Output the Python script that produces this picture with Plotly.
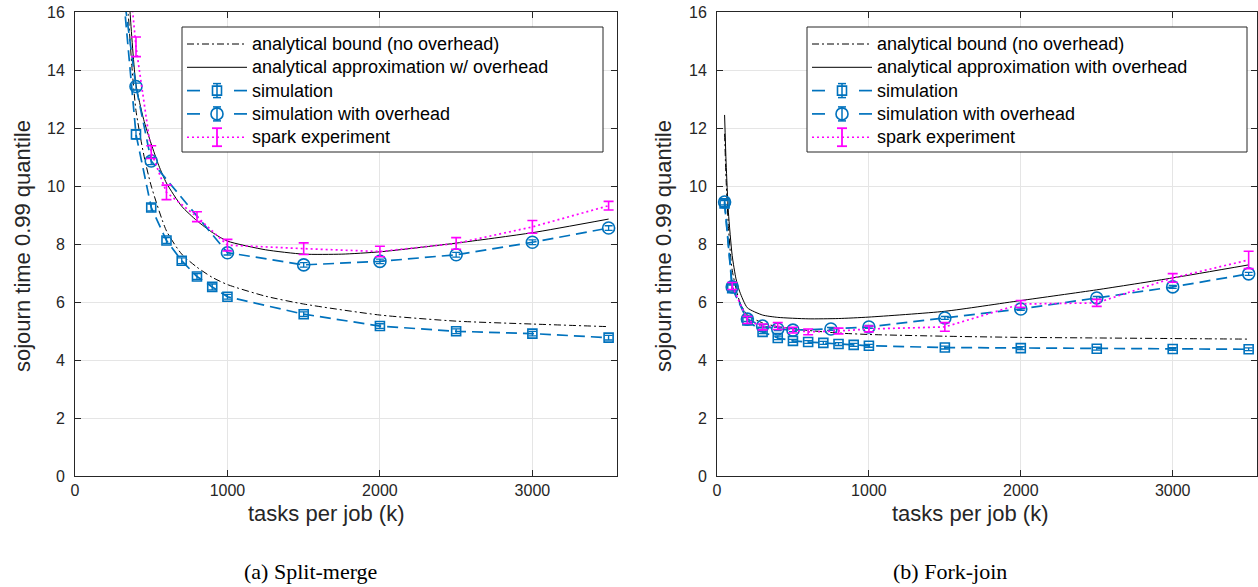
import plotly.graph_objects as go

W, H = 1258, 587

# ---------------- Split-merge (a) ----------------
sm_bound_x = [340, 350, 375, 400, 450, 500, 600, 700, 800, 900, 1000, 1250, 1500, 2000, 2500, 3000, 3500]
sm_bound_y = [16.8, 15.9, 14.0, 12.6, 11.1, 10.0, 8.45, 7.65, 7.2, 6.85, 6.6, 6.2, 5.93, 5.55, 5.34, 5.24, 5.15]

sm_approx_x = [350, 361, 400, 450, 500, 550, 600, 700, 800, 900, 1000, 1250, 1500, 1750, 2000, 2500, 3000, 3500]
sm_approx_y = [17.2, 16.0, 13.5, 12.3, 11.45, 10.7, 10.1, 9.3, 8.8, 8.4, 8.1, 7.8, 7.65, 7.65, 7.73, 8.03, 8.39, 8.86]

sm_sim_x = [300, 400, 500, 600, 700, 800, 900, 1000, 1500, 2000, 2500, 3000, 3500]
sm_sim_y = [17.6, 11.78, 9.26, 8.12, 7.42, 6.88, 6.52, 6.18, 5.58, 5.17, 4.99, 4.91, 4.77]
sm_sim_err = [0.1, 0.15, 0.12, 0.1, 0.1, 0.1, 0.1, 0.08, 0.08, 0.08, 0.08, 0.08, 0.08]

sm_ovh_x = [300, 400, 500, 1000, 1500, 2000, 2500, 3000, 3500]
sm_ovh_y = [17.4, 13.43, 10.86, 7.7, 7.28, 7.4, 7.63, 8.06, 8.55]
sm_ovh_err = [0.1, 0.12, 0.12, 0.08, 0.08, 0.08, 0.08, 0.08, 0.08]

sm_spark_x = [350, 400, 500, 600, 800, 1000, 1500, 2000, 2500, 3000, 3500]
sm_spark_y = [17.6, 14.8, 11.17, 9.78, 8.94, 7.96, 7.84, 7.74, 8.02, 8.59, 9.32]
sm_spark_err = [0.3, 0.34, 0.22, 0.25, 0.17, 0.2, 0.2, 0.18, 0.2, 0.22, 0.15]

# ---------------- Fork-join (b) ----------------
fj_bound_x = [50, 60, 75, 100, 150, 200, 300, 400, 600, 800, 1000, 1500, 2000, 2500, 3000, 3500]
fj_bound_y = [11.8, 10.2, 8.6, 7.1, 6.0, 5.55, 5.28, 5.15, 5.02, 4.93, 4.88, 4.82, 4.78, 4.76, 4.74, 4.72]

fj_approx_x = [50, 60, 75, 100, 125, 150, 200, 300, 400, 600, 800, 1000, 1500, 2000, 2500, 3000, 3500]
fj_approx_y = [12.45, 10.8, 9.1, 7.6, 6.8, 6.35, 5.8, 5.55, 5.47, 5.42, 5.43, 5.48, 5.68, 6.05, 6.42, 6.83, 7.28]

fj_sim_x = [50, 100, 200, 300, 400, 500, 600, 700, 800, 900, 1000, 1500, 2000, 2500, 3000, 3500]
fj_sim_y = [9.4, 6.48, 5.36, 4.97, 4.76, 4.66, 4.62, 4.59, 4.55, 4.52, 4.49, 4.43, 4.41, 4.39, 4.38, 4.37]
fj_sim_err = [0.1, 0.1, 0.1, 0.06, 0.06, 0.05, 0.05, 0.05, 0.05, 0.05, 0.05, 0.05, 0.05, 0.05, 0.05, 0.05]

fj_ovh_x = [50, 100, 200, 300, 400, 500, 750, 1000, 1500, 2000, 2500, 3000, 3500]
fj_ovh_y = [9.45, 6.52, 5.41, 5.17, 5.07, 5.03, 5.07, 5.14, 5.45, 5.76, 6.14, 6.52, 6.97]
fj_ovh_err = [0.1, 0.1, 0.08, 0.06, 0.06, 0.05, 0.05, 0.05, 0.05, 0.05, 0.05, 0.05, 0.05]

fj_spark_x = [100, 200, 300, 400, 500, 600, 800, 1000, 1500, 2000, 2500, 3000, 3500]
fj_spark_y = [6.55, 5.38, 5.14, 5.17, 5.03, 4.97, 5.0, 5.07, 5.14, 5.93, 5.97, 6.83, 7.45]
fj_spark_err = [0.12, 0.12, 0.1, 0.12, 0.1, 0.1, 0.1, 0.1, 0.15, 0.12, 0.12, 0.15, 0.3]

x_ticks = [0, 1000, 2000, 3000]
y_ticks = [0, 2, 4, 6, 8, 10, 12, 14, 16]

legend_a = ["analytical bound (no overhead)", "analytical approximation w/ overhead",
            "simulation", "simulation with overhead", "spark experiment"]
legend_b = ["analytical bound (no overhead)", "analytical approximation with overhead",
            "simulation", "simulation with overhead", "spark experiment"]

BLUE = "#0072BD"
MAG = "#FF00FF"
FONT = "Liberation Sans, Arial, sans-serif"
AXC = "#262626"

BOUND_DASH = "7px,3px,2px,3px"
SIM_DASH = "11px,6px"
SPARK_DASH = "2px,3px"

fig = go.Figure()


def add_panel(xa, ya, names, bx, by, ax, ay, sx, sy, sxe, ox, oy, oye, px, py, pye):
    fig.add_trace(go.Scatter(x=bx, y=by, mode="lines", name=names[0],
                             line=dict(color="black", width=1, dash=BOUND_DASH, shape="spline", smoothing=0.6),
                             xaxis=xa, yaxis=ya))
    fig.add_trace(go.Scatter(x=ax, y=ay, mode="lines", name=names[1],
                             line=dict(color="black", width=1, shape="spline", smoothing=0.6),
                             xaxis=xa, yaxis=ya))
    fig.add_trace(go.Scatter(x=sx, y=sy, mode="lines+markers", name=names[2],
                             line=dict(color=BLUE, width=1.7, dash=SIM_DASH),
                             marker=dict(symbol="square-open", size=9, color=BLUE, line=dict(width=1.6, color=BLUE)),
                             error_y=dict(type="data", array=sxe, color=BLUE, thickness=1.3, width=4),
                             xaxis=xa, yaxis=ya))
    fig.add_trace(go.Scatter(x=ox, y=oy, mode="lines+markers", name=names[3],
                             line=dict(color=BLUE, width=1.7, dash=SIM_DASH),
                             marker=dict(symbol="circle-open", size=12, color=BLUE, line=dict(width=1.6, color=BLUE)),
                             error_y=dict(type="data", array=oye, color=BLUE, thickness=1.3, width=4),
                             xaxis=xa, yaxis=ya))
    fig.add_trace(go.Scatter(x=px, y=py, mode="lines", name=names[4],
                             line=dict(color=MAG, width=1.7, dash=SPARK_DASH),
                             error_y=dict(type="data", array=pye, color=MAG, thickness=1.6, width=5),
                             xaxis=xa, yaxis=ya))


add_panel("x", "y", legend_a, sm_bound_x, sm_bound_y, sm_approx_x, sm_approx_y,
          sm_sim_x, sm_sim_y, sm_sim_err, sm_ovh_x, sm_ovh_y, sm_ovh_err,
          sm_spark_x, sm_spark_y, sm_spark_err)
add_panel("x2", "y2", legend_b, fj_bound_x, fj_bound_y, fj_approx_x, fj_approx_y,
          fj_sim_x, fj_sim_y, fj_sim_err, fj_ovh_x, fj_ovh_y, fj_ovh_err,
          fj_spark_x, fj_spark_y, fj_spark_err)

common_x = dict(range=[0, 3555], tickvals=x_ticks, ticks="inside", ticklen=6, tickcolor=AXC,
                showline=True, linecolor=AXC, linewidth=1, mirror="ticks", showgrid=True,
                gridcolor="#E5E5E5", gridwidth=1, zeroline=False, automargin=False,
                ticklabelstandoff=0,
                tickfont=dict(family=FONT, size=16, color=AXC))
common_y = dict(range=[0, 16], tickvals=y_ticks, ticks="inside", ticklen=6, tickcolor=AXC,
                showline=True, linecolor=AXC, linewidth=1, mirror="ticks", showgrid=True,
                gridcolor="#E5E5E5", gridwidth=1, zeroline=False, automargin=False,
                ticklabelstandoff=6,
                tickfont=dict(family=FONT, size=16, color=AXC))

yd = [1 - 476 / H, 1 - 12 / H]
fig.update_layout(
    width=W, height=H, margin=dict(l=0, r=0, t=0, b=0, autoexpand=False),
    paper_bgcolor="white", plot_bgcolor="white",
    xaxis=dict(domain=[75 / W, 617 / W], anchor="y", **common_x),
    yaxis=dict(domain=yd, anchor="x", **common_y),
    xaxis2=dict(domain=[717 / W, 1257 / W], anchor="y2", **common_x),
    yaxis2=dict(domain=yd, anchor="x2", **common_y),
    showlegend=False,
)


def PX(v):
    return v / W


def PY(v):
    return 1 - v / H


shapes = []
ann = []


def seg(x0, x1, y, color, dash, width):
    shapes.append(dict(type="line", xref="paper", yref="paper", x0=PX(x0), x1=PX(x1), y0=PY(y), y1=PY(y),
                       line=dict(color=color, width=width, dash=dash), layer="above"))


def vbar(x, y, half, capw, color, width):
    shapes.append(dict(type="line", xref="paper", yref="paper", x0=PX(x), x1=PX(x), y0=PY(y - half), y1=PY(y + half),
                       line=dict(color=color, width=width), layer="above"))
    for yy in (y - half, y + half):
        shapes.append(dict(type="line", xref="paper", yref="paper", x0=PX(x - capw), x1=PX(x + capw),
                           y0=PY(yy), y1=PY(yy), line=dict(color=color, width=width), layer="above"))


# manual legends (frame, samples, text)
for (bx0, bx1), names in [((182, 603), legend_a), ((807, 1247), legend_b)]:
    shapes.append(dict(type="rect", xref="paper", yref="paper", x0=PX(bx0), x1=PX(bx1),
                       y0=PY(152), y1=PY(27), fillcolor="white",
                       line=dict(color=AXC, width=1), layer="above"))
    s0, s1 = bx0 + 5, bx0 + 65
    mid = (s0 + s1) / 2
    for i, name in enumerate(names):
        y = 44 + 23.3 * i
        if i == 0:
            seg(s0, s1, y, "black", BOUND_DASH, 1)
        elif i == 1:
            seg(s0, s1, y, "black", "solid", 1)
        elif i in (2, 3):
            seg(s0, s0 + 13, y, BLUE, "solid", 1.7)
            seg(s1 - 13, s1, y, BLUE, "solid", 1.7)
            vbar(mid, y, 7, 4, BLUE, 1.5)
            if i == 2:
                shapes.append(dict(type="rect", xref="paper", yref="paper", x0=PX(mid - 4.5), x1=PX(mid + 4.5),
                                   y0=PY(y + 4.5), y1=PY(y - 4.5), line=dict(color=BLUE, width=1.6), layer="above"))
            else:
                shapes.append(dict(type="circle", xref="paper", yref="paper", x0=PX(mid - 6), x1=PX(mid + 6),
                                   y0=PY(y + 6), y1=PY(y - 6), line=dict(color=BLUE, width=1.6), layer="above"))
        else:
            seg(s0, s1, y, MAG, SPARK_DASH, 1.5)
            vbar(mid, y, 9, 5, MAG, 1.8)
        ann.append(dict(text=name, x=PX(bx0 + 68), y=PY(y), xref="paper", yref="paper", showarrow=False,
                        xanchor="left", yanchor="middle", font=dict(family=FONT, size=18, color="black")))

for cx, ylx in [(326, 22), (970, 663)]:
    ann.append(dict(text="tasks per job (k)", x=PX(cx), y=PY(513), xref="paper", yref="paper",
                    showarrow=False, font=dict(family=FONT, size=22, color=AXC), xanchor="center", yanchor="middle"))
    ann.append(dict(text="sojourn time 0.99 quantile", x=PX(ylx), y=PY(246), xref="paper", yref="paper",
                    showarrow=False, textangle=-90, font=dict(family=FONT, size=22, color=AXC),
                    xanchor="center", yanchor="middle"))
ann.append(dict(text="(a) Split-merge", x=PX(310), y=PY(571), xref="paper", yref="paper", showarrow=False,
                font=dict(family="Liberation Serif, serif", size=22, color="black"), xanchor="center", yanchor="middle"))
ann.append(dict(text="(b) Fork-join", x=PX(950), y=PY(571), xref="paper", yref="paper", showarrow=False,
                font=dict(family="Liberation Serif, serif", size=22, color="black"), xanchor="center", yanchor="middle"))

fig.update_layout(shapes=shapes, annotations=ann)

fig.write_html("out.html")
